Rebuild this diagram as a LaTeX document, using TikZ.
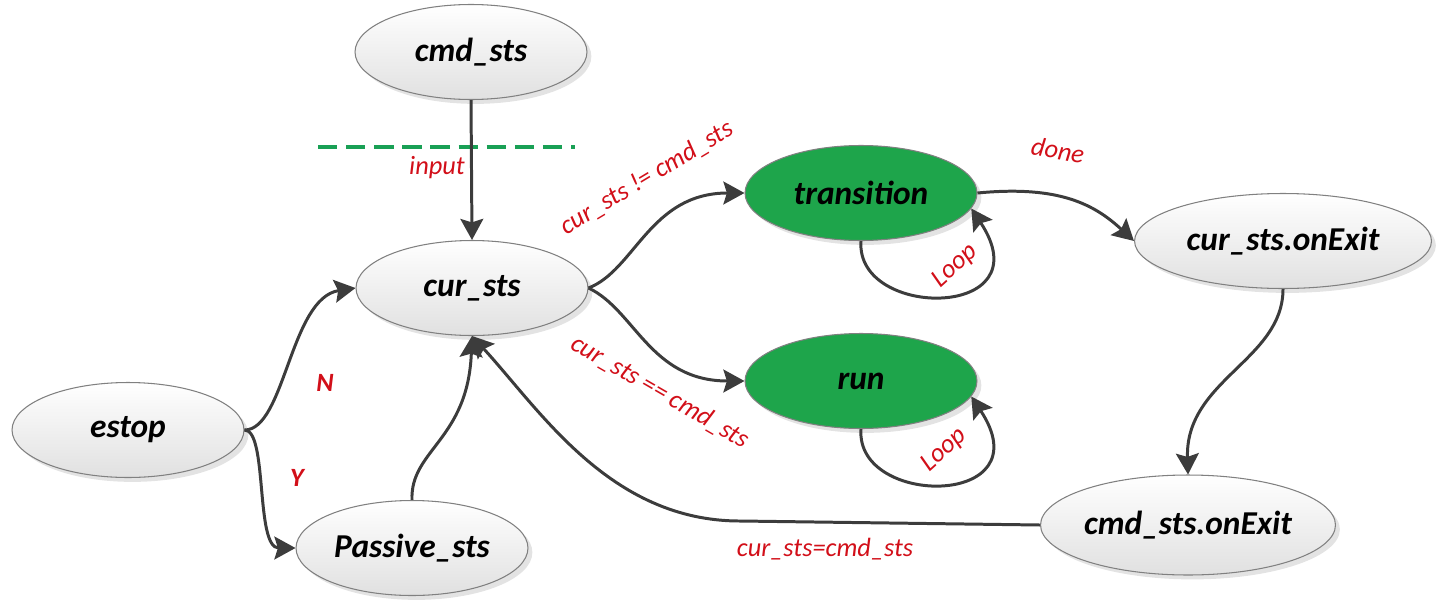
\documentclass[tikz,border=0pt]{standalone}
\usepackage{fontspec}
\setmainfont{Carlito}
\usetikzlibrary{shapes.geometric,arrows.meta,shadows}
\definecolor{lnc}{RGB}{60,60,60}
\definecolor{lbl}{RGB}{210,15,25}
\definecolor{grn}{RGB}{30,165,75}
\definecolor{dgrn}{RGB}{25,160,85}
\begin{document}
\begin{tikzpicture}[x=0.02cm,y=-0.02cm,
  base/.style={ellipse, draw=black!50, line width=0.6pt, minimum width=4.64cm, minimum height=1.9cm, inner sep=0pt,
    drop shadow={opacity=0.22,shadow xshift=2.5pt,shadow yshift=-2.5pt},
    font=\fontsize{19}{21}\selectfont\bfseries\itshape},
  st/.style={base, top color=white, bottom color=black!12},
  gst/.style={base, fill=grn},
  conn/.style={draw=lnc, line width=1.7pt, -{Stealth[length=12pt,width=13pt,inset=2pt]}},
  lab/.style={text=lbl, font=\fontsize{15}{17}\selectfont\itshape, inner sep=0pt},
  blab/.style={lab, font=\fontsize{15}{17}\selectfont\bfseries\itshape},
  sep/.style={draw=dgrn, line width=2pt, dash pattern=on 11pt off 5pt}
]
\useasboundingbox (0,0) rectangle (1456,602);

\node[st] (cmd) at (471,52) {cmd\_sts};
\node[st] (cur) at (472,288) {cur\_sts};
\node[gst] (tr) at (861,193) {transition};
\node[gst] (run) at (861,381) {run};
\node[st] (es) at (128,430) {estop};
\node[st] (pas) at (412,548) {Passive\_sts};
\node[st, minimum width=5.94cm] (cex) at (1283,241) {cur\_sts.onExit};
\node[st, minimum width=5.9cm, minimum height=2.0cm] (mex) at (1188,525) {cmd\_sts.onExit};

\coordinate (dl) at (318,147);
\coordinate (dr) at (575,147);
\draw[sep] (dl) -- (dr);

\draw[conn] (cmd.south) -- (cur.north);
\draw[conn] (cur.east) .. controls (635,270) and (650,193) .. (tr.west);
\draw[conn] (cur.east) .. controls (635,310) and (650,381) .. (run.west);
\draw[conn] (tr.south) .. controls (855,320) and (1045,320) .. (tr.-8);
\draw[conn] (run.south) .. controls (855,508) and (1045,508) .. (run.-8);
\draw[conn] (tr.east) .. controls (1060,185) and (1095,205) .. (cex.west);
\draw[conn] (cex.south) .. controls (1283,360) and (1185,380) .. (mex.north);
\coordinate (bend) at (740,521);
\draw[conn] (mex.west) -- (bend) .. controls (610,521) and (540,410) .. (cur.south);
\draw[conn] (pas.north) .. controls (410,450) and (468,440) .. (cur.south);
\draw[conn] (es.east) .. controls (285,430) and (290,298) .. (cur.west);
\draw[conn] (es.east) .. controls (268,430) and (255,548) .. (pas.west);

\node[lab, rotate=31] (l1) at (647,178) {cur\_sts != cmd\_sts};
\node[lab, rotate=-30] (l2) at (660,392) {cur\_sts == cmd\_sts};
\node[lab, rotate=42] (l3) at (955,266) {Loop};
\node[lab, rotate=42] (l4) at (944,450) {Loop};
\node[lab, rotate=-10] (l5) at (1058,150) {done};
\node[lab] (l6) at (437,168) {input};
\node[blab] (l7) at (325,383) {N};
\node[blab] (l8) at (297,478) {Y};
\node[lab] (l9) at (825,549) {cur\_sts=cmd\_sts};
\end{tikzpicture}
\end{document}
